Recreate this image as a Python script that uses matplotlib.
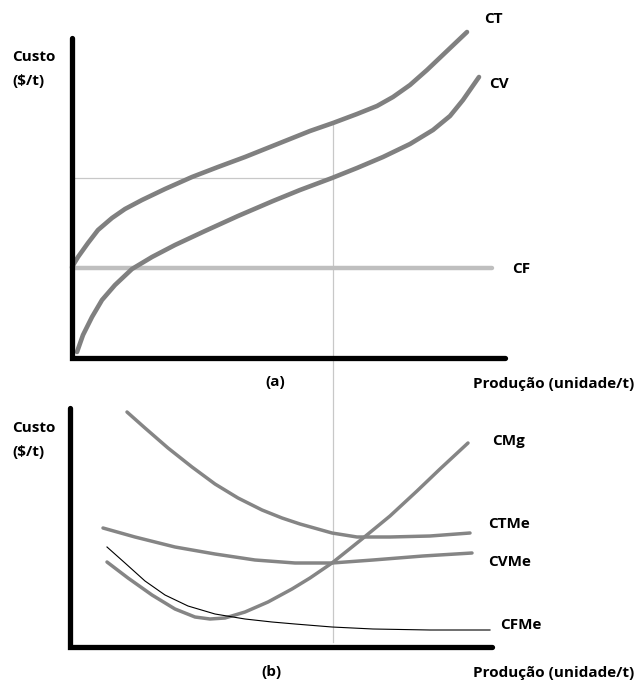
import matplotlib.pyplot as plt

# everything is in picture units (x to the right, y downward), read off the reference
# panel (a): total, variable and fixed cost
ct_x = [72, 78, 88, 98, 112, 125, 142, 165, 192, 218, 245, 270, 290, 310, 333,
        357, 377, 393, 410, 427, 447, 467]
ct_y = [267, 257, 243, 230, 218, 209, 200, 189, 177, 167, 157, 147, 139, 131, 123,
        114, 106, 97, 85, 70, 51, 32]
cv_x = [77, 83, 92, 102, 115, 132, 152, 175, 205, 238, 273, 300, 332, 357,
        383, 410, 433, 450, 463, 479]
cv_y = [352, 335, 317, 300, 285, 269, 257, 245, 231, 216, 201, 190, 178, 168,
        157, 144, 130, 116, 100, 77]
cf_x = [72, 492]
cf_y = [268, 268]

# panel (b): average and marginal cost
ctme_x = [127, 145, 168, 192, 215, 238, 262, 282, 300, 332, 357, 390, 430, 470]
ctme_y = [412, 428, 448, 467, 484, 498, 510, 518, 524, 533, 537, 537, 536, 533]
cvme_x = [103, 135, 175, 215, 255, 295, 332, 373, 423, 472]
cvme_y = [528, 537, 547, 554, 560, 563, 563, 560, 556, 553]
cmg_x = [107, 128, 152, 175, 195, 210, 225, 245, 268, 292, 310, 332, 362, 390,
         417, 440, 468]
cmg_y = [562, 578, 595, 609, 617, 619, 618, 612, 602, 589, 578, 563, 539, 516,
         491, 469, 443]
cfme_x = [107, 125, 145, 165, 188, 215, 245, 272, 295, 332, 373, 430, 490]
cfme_y = [547, 563, 581, 595, 606, 614, 619, 622, 624, 627, 629, 630, 630]

# reference quantity guides
q_star = 333
ct_at_q = 123
cv_at_q = 178

fig = plt.figure(figsize=(6.42, 6.84), dpi=100)
ax = fig.add_axes([0, 0, 1, 1])
ax.set_xlim(0, 642)
ax.set_ylim(684, 0)
ax.axis('off')

font = dict(family='Open Sans', fontweight='bold', fontsize=11, color='black')
guide = '#c8c8c8'

# guide lines
ax.plot([72, q_star], [cv_at_q, cv_at_q], color=guide, lw=0.9, zorder=1)
ax.plot([q_star, q_star], [ct_at_q, 642], color=guide, lw=0.9, zorder=1)

# axes (a)
ax.plot([72, 72, 505], [38, 358, 358], color='black', lw=3.8, solid_capstyle='round',
        solid_joinstyle='miter', zorder=5)
# axes (b)
ax.plot([70, 70, 492], [408, 647, 647], color='black', lw=3.8, solid_capstyle='round',
        solid_joinstyle='miter', zorder=5)

# curves (a)
ax.plot(cf_x, cf_y, color='#bfbfbf', lw=3.2, solid_capstyle='round', zorder=2)
ax.plot(ct_x, ct_y, color='#808080', lw=3.3, solid_capstyle='round',
        solid_joinstyle='round', zorder=3)
ax.plot(cv_x, cv_y, color='#808080', lw=3.3, solid_capstyle='round',
        solid_joinstyle='round', zorder=3)

# curves (b)
for xs, ys in [(ctme_x, ctme_y), (cvme_x, cvme_y), (cmg_x, cmg_y)]:
    ax.plot(xs, ys, color='#858585', lw=2.5, solid_capstyle='round',
            solid_joinstyle='round', zorder=3)
ax.plot(cfme_x, cfme_y, color='black', lw=0.8, zorder=3)

# curve labels
ax.text(484, 19, 'CT', va='center', ha='left', **font)
ax.text(489, 84, 'CV', va='center', ha='left', **font)
ax.text(512, 269, 'CF', va='center', ha='left', **font)
ax.text(492, 441, 'CMg', va='center', ha='left', **font)
ax.text(488, 524, 'CTMe', va='center', ha='left', **font)
ax.text(488, 562, 'CVMe', va='center', ha='left', **font)
ax.text(500, 625, 'CFMe', va='center', ha='left', **font)

# axis titles
for y0 in (57, 428):
    ax.text(12, y0, 'Custo', va='center', ha='left', **font)
    ax.text(12, y0 + 24, '($/t)', va='center', ha='left', **font)
ax.text(275, 382, '(a)', va='center', ha='center', **font)
ax.text(271, 672, '(b)', va='center', ha='center', **font)
ax.text(634, 384, 'Produção (unidade/t)', va='center', ha='right', **font)
ax.text(634, 673, 'Produção (unidade/t)', va='center', ha='right', **font)

fig.savefig('out.png', dpi=100)
